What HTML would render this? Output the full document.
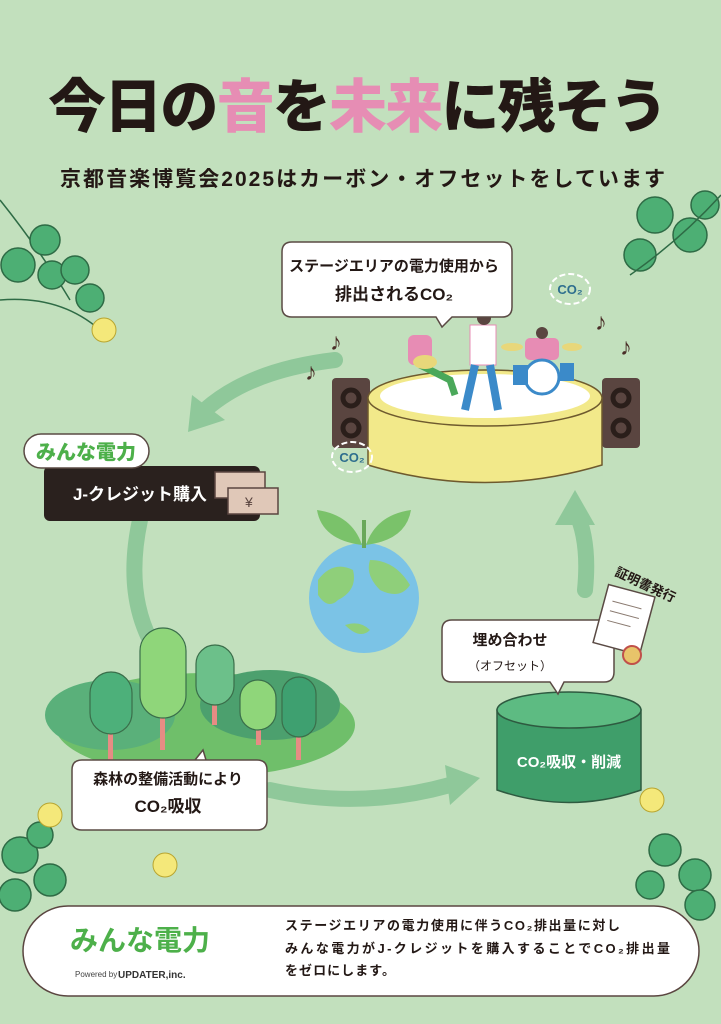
<!DOCTYPE html>
<html><head><meta charset="utf-8"><style>
html,body{margin:0;padding:0;}
body{width:721px;height:1024px;overflow:hidden;background:#c2e0bd;}
svg{display:block}
text{font-family:"Liberation Sans","Noto Sans CJK JP",sans-serif;}
</style></head><body>
<svg width="721" height="1024" viewBox="0 0 721 1024" xmlns="http://www.w3.org/2000/svg">
<rect width="721" height="1024" fill="#c2e0bd"/>
<!-- title -->
<text x="48" y="127" font-size="58" font-weight="900" fill="#231815" textLength="620" lengthAdjust="spacing">今日の<tspan fill="#e68db4">音</tspan>を<tspan fill="#e68db4">未来</tspan>に残そう</text>
<text x="60" y="186" font-size="21" font-weight="700" fill="#231815" textLength="605" lengthAdjust="spacing">京都音楽博覧会2025はカーボン・オフセットをしています</text>

<!-- clovers -->
<g fill="#4daf74" stroke="#2e6b45" stroke-width="1.5">
<path d="M0 200 Q40 250 70 300" fill="none"/>
<circle cx="18" cy="265" r="17"/><circle cx="45" cy="240" r="15"/><circle cx="52" cy="275" r="14"/>
<circle cx="75" cy="270" r="14"/><circle cx="90" cy="298" r="14"/>
<path d="M0 300 Q60 295 100 330" fill="none"/>
<circle cx="655" cy="215" r="18"/><circle cx="690" cy="235" r="17"/><circle cx="640" cy="255" r="16"/><circle cx="705" cy="205" r="14"/>
<path d="M721 195 Q680 240 630 275" fill="none"/>
<circle cx="20" cy="855" r="18"/><circle cx="50" cy="880" r="16"/><circle cx="15" cy="895" r="16"/><circle cx="40" cy="835" r="13"/>
<circle cx="665" cy="850" r="16"/><circle cx="695" cy="875" r="16"/><circle cx="700" cy="905" r="15"/><circle cx="650" cy="885" r="14"/>
</g>
<g fill="#f4e87a" stroke="#b8a530" stroke-width="1">
<circle cx="104" cy="330" r="12"/><circle cx="50" cy="815" r="12"/><circle cx="165" cy="865" r="12"/><circle cx="652" cy="800" r="12"/>
</g>

<!-- cycle arrows -->
<g fill="none" stroke="#8fc89a" stroke-width="16" stroke-linecap="round">
<path d="M335 360 Q250 370 205 410"/>
<path d="M140 520 Q125 590 150 640"/>
<path d="M270 790 Q360 810 450 785"/>
<path d="M585 590 Q590 540 575 510"/>
</g>
<g fill="#8fc89a">
<polygon points="188,432 192,395 225,420"/>
<polygon points="480,778 445,765 450,805"/>
<polygon points="575,490 555,525 595,525"/>
</g>

<!-- stage -->
<rect x="332" y="378" width="38" height="70" rx="4" fill="#5a4540"/>
<rect x="602" y="378" width="38" height="70" rx="4" fill="#5a4540"/>
<g fill="none" stroke="#2a1e1a" stroke-width="5"><circle cx="351" cy="398" r="8"/><circle cx="351" cy="428" r="8"/><circle cx="621" cy="398" r="8"/><circle cx="621" cy="428" r="8"/></g>
<path d="M368 398 L368 465 Q485 500 602 465 L602 398 Z" fill="#f2e98a" stroke="#6e5a2e" stroke-width="1.5"/>
<ellipse cx="485" cy="398" rx="117" ry="28" fill="#f2e98a" stroke="#6e5a2e" stroke-width="1.5"/>
<ellipse cx="485" cy="396" rx="105" ry="22" fill="#fff"/>
<!-- band -->
<rect x="408" y="335" width="24" height="30" rx="6" fill="#e78cb4"/>
<path d="M420 365 L450 380 L455 395" stroke="#4aa85a" stroke-width="7" fill="none"/>
<ellipse cx="425" cy="362" rx="12" ry="7" fill="#e8d77a"/>
<rect x="470" y="325" width="26" height="40" fill="#fff" stroke="#e78cb4"/>
<path d="M475 365 L465 410 M490 365 L498 410" stroke="#3b8ac9" stroke-width="8"/>
<circle cx="484" cy="318" r="7" fill="#5a4540"/>
<rect x="525" y="338" width="34" height="22" rx="5" fill="#e78cb4"/>
<circle cx="542" cy="333" r="6" fill="#5a4540"/>
<circle cx="542" cy="377" r="17" fill="#fff" stroke="#3b8ac9" stroke-width="3"/>
<rect x="513" y="365" width="15" height="20" fill="#3b8ac9"/><rect x="560" y="363" width="14" height="18" fill="#3b8ac9"/>
<ellipse cx="512" cy="347" rx="11" ry="4" fill="#e8d77a"/><ellipse cx="572" cy="347" rx="10" ry="4" fill="#e8d77a"/>
<!-- notes -->
<g font-size="24" fill="#4a2e28"><text x="330" y="350">♪</text><text x="305" y="380">♪</text><text x="595" y="330">♪</text><text x="620" y="355">♪</text></g>
<!-- CO2 clouds -->
<g fill="none" stroke="#fff" stroke-width="2" stroke-dasharray="6 3"><ellipse cx="570" cy="289" rx="20" ry="15"/><ellipse cx="352" cy="457" rx="20" ry="15"/></g>
<g font-size="13" font-weight="700" fill="#2e6e8e" text-anchor="middle"><text x="570" y="294">CO₂</text><text x="352" y="462">CO₂</text></g>

<!-- speech bubble top -->
<path d="M292 242 h210 q10 0 10 10 v55 q0 10 -10 10 h-50 l-10 10 l-6 -10 h-144 q-10 0 -10 -10 v-55 q0 -10 10 -10z" fill="#fff" stroke="#5a4a44" stroke-width="1.5"/>
<text x="394" y="271" text-anchor="middle" font-size="15" font-weight="700" fill="#231815">ステージエリアの電力使用から</text>
<text x="394" y="300" text-anchor="middle" font-size="17" font-weight="700" fill="#231815">排出されるCO₂</text>

<!-- J-credit -->
<rect x="44" y="466" width="216" height="55" rx="6" fill="#2a211e"/>
<text x="140" y="500" text-anchor="middle" font-size="17" font-weight="700" fill="#fff">J-クレジット購入</text>
<rect x="24" y="434" width="125" height="34" rx="17" fill="#fff" stroke="#5a4a44" stroke-width="1.5"/>
<text x="86" y="459" text-anchor="middle" font-size="20" font-weight="900" fill="#4db04a">みんな電力</text>
<g stroke="#5a4540" stroke-width="1.5" fill="#e0c8b8"><rect x="215" y="472" width="50" height="26"/><rect x="228" y="488" width="50" height="26"/></g>
<text x="245" y="507" font-size="14" fill="#5a4540">¥</text>

<!-- earth -->
<circle cx="364" cy="598" r="55" fill="#7bc3e6"/>
<path d="M318 580 q15 -20 35 -10 q5 20 -15 30 q-10 10 -20 -5z M370 560 q25 0 40 25 q-10 15 -30 5 q-15 -15 -10 -30z M345 625 q15 -5 25 5 q-10 10 -25 -5z" fill="#8fcf7a"/>
<path d="M362 545 q-10 -30 -45 -35 q5 30 45 35z M366 545 q10 -30 45 -35 q-5 30 -45 35z" fill="#7ac26a"/>
<rect x="362" y="520" width="4" height="28" fill="#6aa85a"/>

<!-- forest -->
<ellipse cx="205" cy="725" rx="150" ry="52" fill="#6fbf6a"/>
<ellipse cx="110" cy="715" rx="65" ry="35" fill="#5ab07a"/>
<ellipse cx="270" cy="705" rx="70" ry="35" fill="#4ca06e"/>
<g fill="#e78c84"><rect x="108" y="730" width="5" height="30"/><rect x="160" y="700" width="5" height="50"/><rect x="212" y="700" width="5" height="25"/><rect x="256" y="720" width="5" height="25"/><rect x="296" y="725" width="5" height="35"/></g>
<g stroke="#3a6e4a" stroke-width="1.2">
<rect x="90" y="672" width="42" height="62" rx="21" fill="#4db07a"/>
<rect x="140" y="628" width="46" height="90" rx="23" fill="#8fd67a"/>
<rect x="196" y="645" width="38" height="60" rx="19" fill="#6cc08a"/>
<rect x="240" y="680" width="36" height="50" rx="18" fill="#8fd67a"/>
<rect x="282" y="677" width="34" height="60" rx="17" fill="#3ea070"/>
</g>
<path d="M82 760 h175 q10 0 10 10 v50 q0 10 -10 10 h-175 q-10 0 -10 -10 v-50 q0 -10 10 -10z M195 760 l8 -10 l3 10" fill="#fff" stroke="#5a4a44" stroke-width="1.5"/>
<text x="168" y="784" text-anchor="middle" font-size="15" font-weight="700" fill="#231815">森林の整備活動により</text>
<text x="168" y="812" text-anchor="middle" font-size="17" font-weight="700" fill="#231815">CO₂吸収</text>

<!-- cylinder -->
<path d="M497 710 v80 q72 25 144 0 v-80z" fill="#3f9e6a" stroke="#2e5a40" stroke-width="1.5"/>
<ellipse cx="569" cy="710" rx="72" ry="18" fill="#5dbb82" stroke="#2e5a40" stroke-width="1.5"/>
<text x="569" y="767" text-anchor="middle" font-size="15" font-weight="700" fill="#fff">CO₂吸収・削減</text>
<path d="M452 620 h152 q10 0 10 10 v42 q0 10 -10 10 h-40 l-6 12 l-8 -12 h-98 q-10 0 -10 -10 v-42 q0 -10 10 -10z" fill="#fff" stroke="#5a4a44" stroke-width="1.5"/>
<text x="510" y="645" text-anchor="middle" font-size="15" font-weight="700" fill="#231815">埋め合わせ</text>
<text x="510" y="670" text-anchor="middle" font-size="12" fill="#231815">（オフセット）</text>
<g transform="rotate(15 625 620)"><rect x="600" y="590" width="48" height="60" fill="#fff" stroke="#5a4a44" stroke-width="1.5"/>
<path d="M608 605 h30 M608 615 h30 M608 625 h24" stroke="#8a7a70"/></g>
<circle cx="632" cy="655" r="9" fill="#e8c46a" stroke="#c0504a" stroke-width="2"/>
<text x="614" y="575" font-size="13" font-weight="700" fill="#231815" transform="rotate(25 614 575)">証明書発行</text>

<!-- bottom box -->
<rect x="23" y="906" width="676" height="90" rx="45" fill="#fff" stroke="#5a4540" stroke-width="1.5"/>
<text x="140" y="950" text-anchor="middle" font-size="28" font-weight="700" fill="#4db04a">みんな電力</text>
<text x="75" y="977" font-size="8" fill="#444">Powered by</text>
<text x="118" y="978" font-size="10" font-weight="700" fill="#333">UPDATER,inc.</text>
<g font-size="13" font-weight="700" fill="#231815"><text x="285" y="930" textLength="335" lengthAdjust="spacing">ステージエリアの電力使用に伴うCO₂排出量に対し</text><text x="285" y="953" textLength="385" lengthAdjust="spacing">みんな電力がJ-クレジットを購入することでCO₂排出量</text><text x="285" y="975" textLength="110" lengthAdjust="spacing">をゼロにします。</text></g>
</svg>
</body></html>
